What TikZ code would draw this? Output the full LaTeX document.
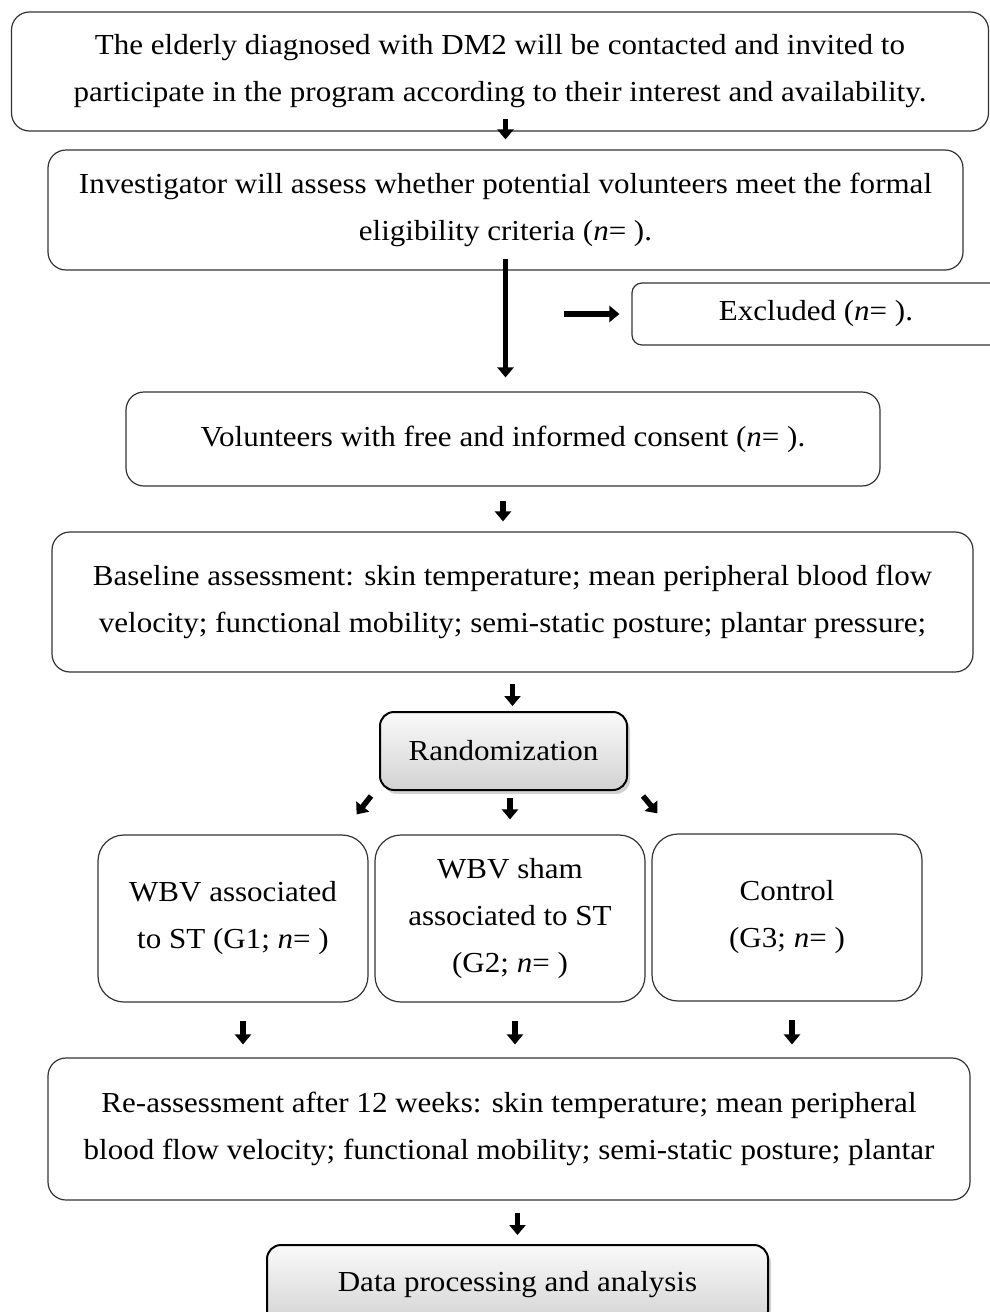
\documentclass[tikz,border=0pt]{standalone}
\usepackage{fontspec}
\setmainfont[FakeStretch=1.07]{Liberation Serif}
\usetikzlibrary{
    arrows.meta,
    shadows,
    calc,
    positioning
}

\begin{document}
\begin{tikzpicture}[x=1pt, y=-1pt,
                        box/.style={draw=black!80, line width=1.2pt, rounded corners=18pt, align=center,
                            font=\fontsize{29}{47}\selectfont},
                        group/.style={box, rounded corners=26pt, minimum width=270pt, minimum height=167pt},
                        shadebox/.style={box, draw=black, line width=2pt, rounded corners=14pt,
                            top color=gray!4, bottom color=gray!35,
                            drop shadow={opacity=0.35, shadow xshift=3pt, shadow yshift=-4pt}},
                        arr/.style={-{Triangle[width=16pt, length=10pt]}, line width=5.5pt}]
                        \clip (0, 0) rectangle (990, 1312);

                        \node[box, minimum width=977pt, minimum height=119pt] (invite) at (500, 71.5)
                            {The elderly diagnosed with DM2 will be contacted and invited to\\
                             participate in the program according to their interest and availability.};
                        \node[box, minimum width=915pt, minimum height=120pt] (elig) at (505.5, 210)
                            {Investigator will assess whether potential volunteers meet the formal\\
                             eligibility criteria (\textit{n}= ).};
                        \node[box, rounded corners=10pt, minimum width=368pt, minimum height=62pt] (excl) at (816, 314)
                            {Excluded (\textit{n}= ).};
                        \node[box, minimum width=754pt, minimum height=94pt] (consent) at (503, 439)
                            {Volunteers with free and informed consent (\textit{n}= ).};
                        \node[box, minimum width=921pt, minimum height=140pt] (base) at (512.5, 602)
                            {Baseline assessment: skin temperature; mean peripheral blood flow\\
                             velocity; functional mobility; semi-static posture; plantar pressure;};
                        \node[shadebox, minimum width=247pt, minimum height=78pt] (rand) at (503.5, 751) {Randomization};
                        \node[group] (g1) at (233, 918.5) {WBV associated\\ to ST (G1; \textit{n}= )};
                        \node[group] (g2) at (510, 918.5) {WBV sham\\ associated to ST\\ (G2; \textit{n}= )};
                        \node[group] (g3) at (787, 917.5) {Control\\ (G3; \textit{n}= )};
                        \node[box, minimum width=922pt, minimum height=142pt] (reass) at (509, 1129)
                            {Re-assessment after 12 weeks: skin temperature; mean peripheral\\
                             blood flow velocity; functional mobility; semi-static posture; plantar};
                        \node[shadebox, minimum width=501pt, minimum height=80pt] (data) at (517.5, 1285)
                            {Data processing and analysis};

                        \draw[arr] ($(elig.north |- invite.south)+(0, -13)$) -- ($(elig.north)+(0, -10)$);
                        \draw[arr] ($(elig.south)+(0, -12)$) -- ($(elig.south |- consent.north)+(0, -14)$);
                        \draw[arr, shorten >=12pt] ([xshift=-67pt]excl.west) -- (excl.west);
                        \draw[arr, shorten <=14pt, shorten >=10pt] (consent.south) -- (consent.south |- base.north);
                        \draw[arr, shorten <=11pt, shorten >=5pt] (base.south) -- (base.south |- rand.north);
                        \draw[arr] ($(rand.south west)+(-8, 5)$) -- ($(g1.north east)+(-12, -20)$);
                        \draw[arr, shorten <=7pt, shorten >=15pt] (rand.south -| g2.north) -- (g2.north);
                        \draw[arr] ($(rand.south east)+(15, 5)$) -- ($(g3.north west)+(6, -20)$);
                        \foreach \g/\dx in {g1/10, g2/5, g3/5}
                            \draw[arr, shorten <=18pt, shorten >=13pt] ($(\g.south)+(\dx, 0)$) -- ($(\g.south |- reass.north)+(\dx, 0)$);
                        \draw[arr, shorten <=12pt, shorten >=9pt] (data.north |- reass.south) -- (data.north);
                    \end{tikzpicture}
\end{document}
